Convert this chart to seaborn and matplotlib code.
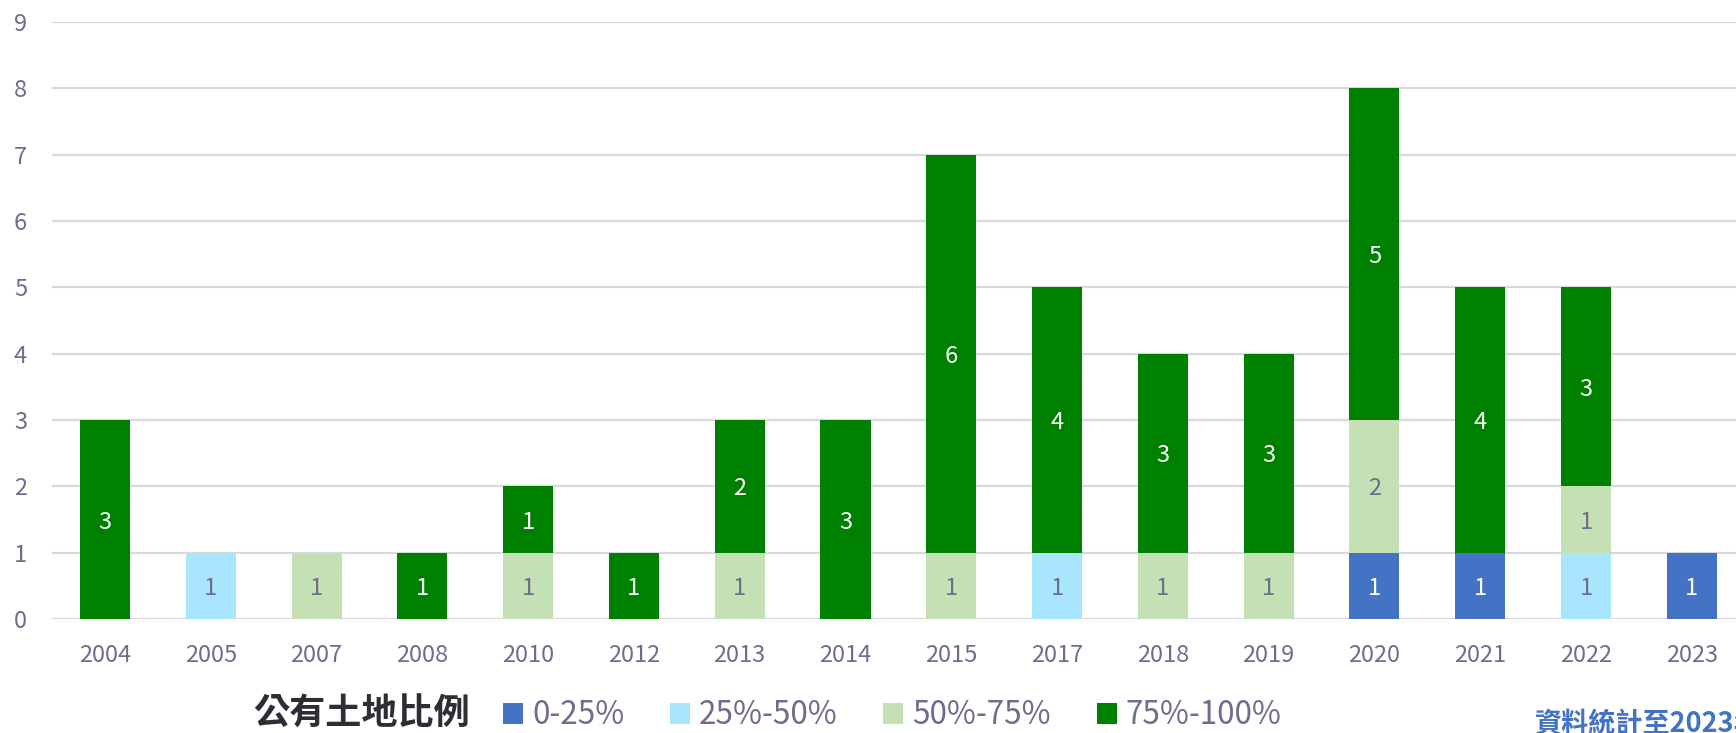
import pandas as pd
import matplotlib.pyplot as plt
import seaborn as sns
from matplotlib.patches import Patch

# Data
years = ['2004', '2005', '2007', '2008', '2010', '2012', '2013', '2014',
         '2015', '2017', '2018', '2019', '2020', '2021', '2022', '2023']
share_0_25 = [0, 0, 0, 0, 0, 0, 0, 0, 0, 0, 0, 0, 1, 1, 0, 1]
share_25_50 = [0, 1, 0, 0, 0, 0, 0, 0, 0, 1, 0, 0, 0, 0, 1, 0]
share_50_75 = [0, 0, 1, 0, 1, 0, 1, 0, 1, 0, 1, 1, 2, 0, 1, 0]
share_75_100 = [3, 0, 0, 1, 1, 1, 2, 3, 6, 4, 3, 3, 5, 4, 3, 0]
series_names = ['0-25%', '25%-50%', '50%-75%', '75%-100%']
colors = ['#4472C4', '#A7E6FD', '#C5E0B4', '#008000']
label_colors = ['white', '#6E6D8C', '#6E6D8C', 'white']

df = pd.DataFrame({'year': years, '0-25%': share_0_25, '25%-50%': share_25_50,
                   '50%-75%': share_50_75, '75%-100%': share_75_100})

# cumulative tops for the stacked bars
cum = df[series_names].cumsum(axis=1)

sns.set_style('white')
plt.rcParams['font.family'] = ['Noto Sans CJK TC', 'DejaVu Sans']

tick_color = '#6E6D8C'
fig = plt.figure(figsize=(17.36, 7.33), dpi=100)
ax = fig.add_axes([0.030, 0.1555, 0.975, 0.8145])

# draw from the tallest stack down so each layer covers the one below
for i in range(len(series_names) - 1, -1, -1):
    sns.barplot(x=df['year'], y=cum[series_names[i]], color=colors[i],
                width=0.473, saturation=1, ax=ax, zorder=2, linewidth=0)

# segment labels
for i, name in enumerate(series_names):
    for j, v in enumerate(df[name]):
        if v > 0:
            base = cum[name][j] - v
            ax.text(j, base + v / 2, str(v), ha='center', va='center_baseline',
                    fontsize=17, color=label_colors[i], zorder=3)

ax.set_ylim(0, 9)
ax.set_xlim(-0.5, len(years) - 0.5)
ax.set_yticks(range(0, 10))
ax.set_xlabel('')
ax.set_ylabel('')
ax.grid(axis='y', color='#D9D9DE', linewidth=1.6, zorder=0)
ax.set_axisbelow(True)
sns.despine(ax=ax, left=True, bottom=True)
ax.tick_params(axis='both', length=0, labelsize=17, labelcolor=tick_color)
ax.tick_params(axis='x', pad=18)
ax.tick_params(axis='y', pad=18)

# legend
handles = [Patch(facecolor=c, edgecolor='none') for c in colors]
fig.text(253 / 1736, 0.026, '公有土地比例', fontsize=26, fontweight='bold',
         color='#2D2D35', ha='left', va='center')
fig.legend(handles, series_names, loc='center left',
           bbox_to_anchor=(503 / 1736, 0.024), ncol=4, frameon=False,
           fontsize=22.6, handlelength=0.63, handleheight=0.63,
           handletextpad=0.3, columnspacing=1.45, borderpad=0,
           borderaxespad=0, labelcolor=tick_color)

fig.text(1535 / 1736, 0.012, '資料統計至2023年', fontsize=19.5, fontweight='bold',
         color='#4472C4', ha='left', va='center')

fig.savefig('out.png', dpi=100)
